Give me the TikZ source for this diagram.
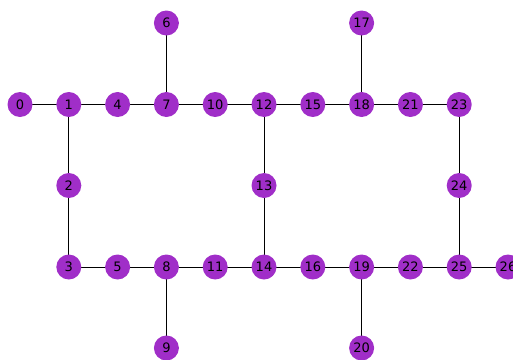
\documentclass[tikz,border=0pt]{standalone}
\usepackage{fontspec}
\setmainfont{DejaVu Sans}
\definecolor{nodefill}{HTML}{A02EC8}
\begin{document}
\begin{tikzpicture}[x=1pt,y=-1pt,
  vert/.style={circle,fill=nodefill,minimum size=25pt,inner sep=0pt,font=\fontsize{13}{13}\selectfont},
  edge/.style={draw=black,line width=1pt}]
\useasboundingbox (0,0) rectangle (513,359);
\def\dx{48.8}
\foreach \n/\i/\y in {0/0/104.5,1/1/104.5,4/2/104.5,7/3/104.5,10/4/104.5,12/5/104.5,15/6/104.5,18/7/104.5,21/8/104.5,23/9/104.5,
  6/3/23,17/7/23,
  2/1/185.5,13/5/185.5,24/9/185.5,
  3/1/267,5/2/267,8/3/267,11/4/267,14/5/267,16/6/267,19/7/267,22/8/267,25/9/267,26/10/267,
  9/3/348,20/7/348}
  \coordinate (c\n) at ({20+\dx*\i},\y);
\foreach \a/\b in {0/1,1/4,4/7,7/10,10/12,12/15,15/18,18/21,21/23,6/7,17/18,1/2,2/3,3/5,5/8,8/11,11/14,14/16,16/19,19/22,22/25,25/26,8/9,19/20,12/13,13/14,23/24,24/25}
  \draw[edge] (c\a) -- (c\b);
\foreach \n in {0,1,2,3,4,5,6,7,8,9,10,11,12,13,14,15,16,17,18,19,20,21,22,23,24,25,26}
  \node[vert] (n\n) at (c\n) {\n};
\end{tikzpicture}
\end{document}
